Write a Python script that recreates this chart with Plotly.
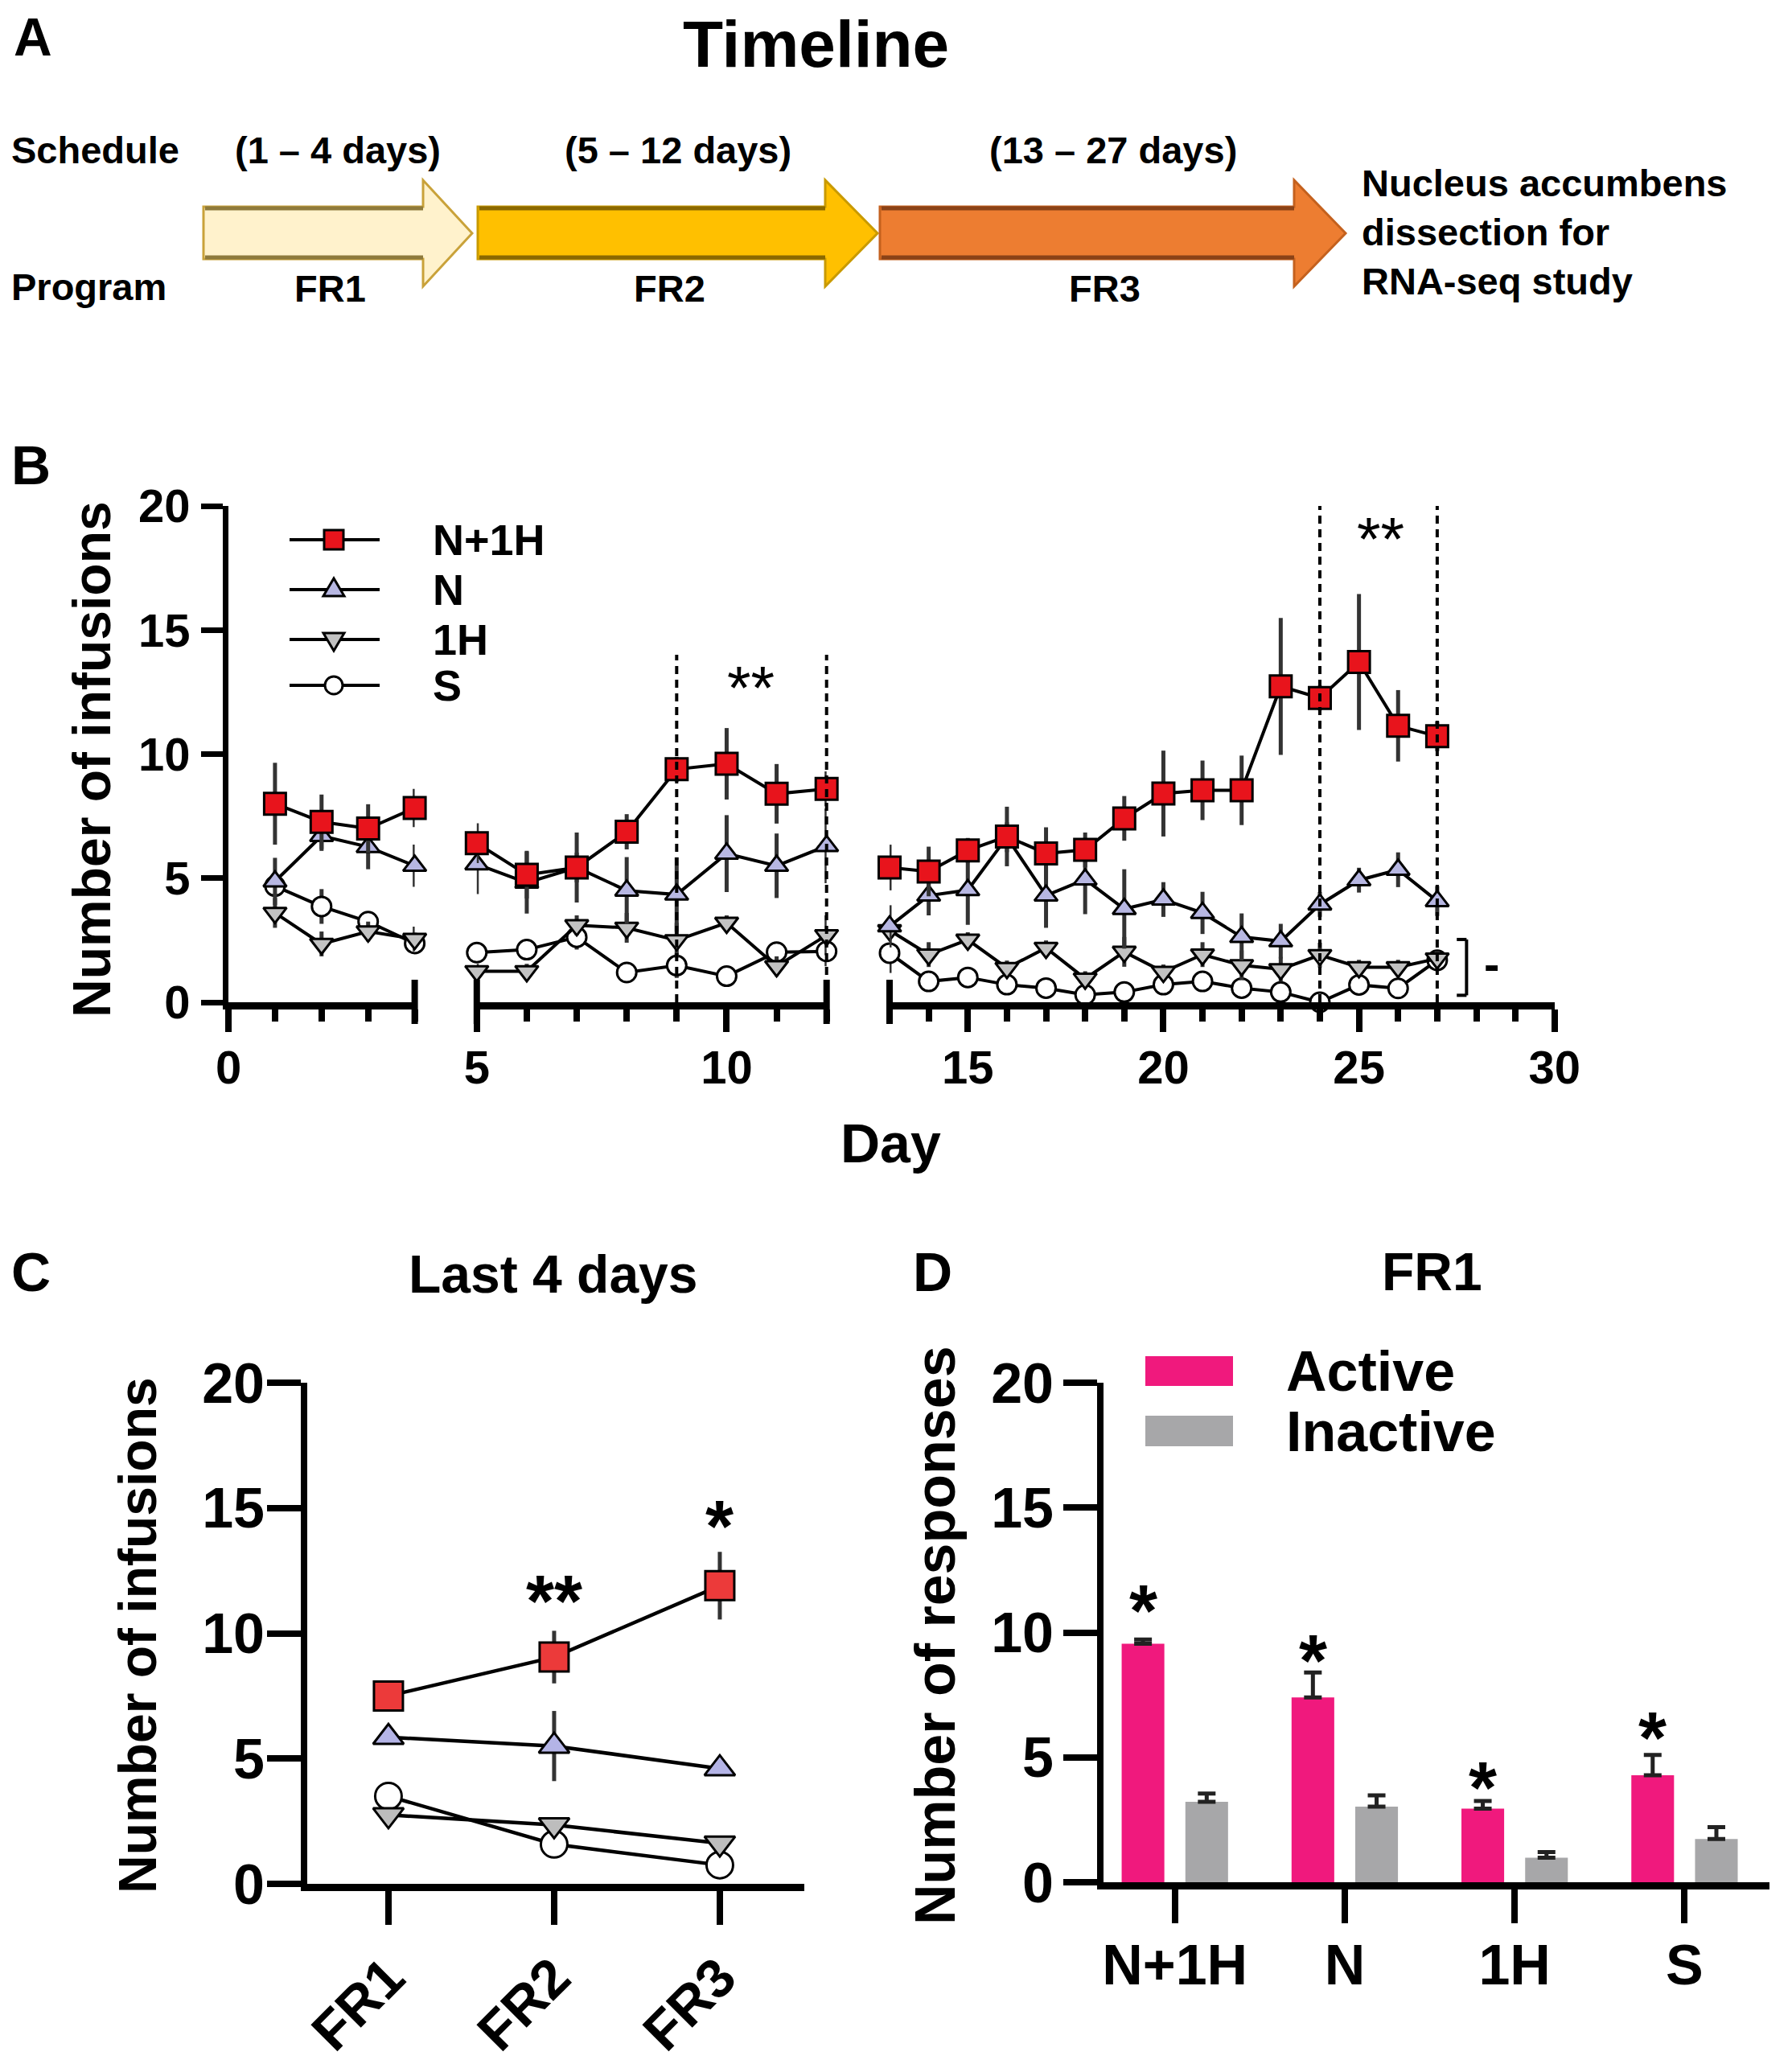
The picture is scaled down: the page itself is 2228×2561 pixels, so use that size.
import plotly.graph_objects as go

W, H = 2228, 2561
FONT = "Arial, 'Liberation Sans', sans-serif"
OFF = 8  # page body margin compensation (px)

# ---------------- Panel B data (mean ± SEM per day) ----------------
days = list(range(1, 28))
nh_mean = [8.0, 7.27, 7.0, 7.83, 6.41, 5.14, 5.43, 6.87, 9.39, 9.61, 8.4, 8.6,
           5.43, 5.27, 6.12, 6.68, 6.0, 6.14, 7.41, 8.41, 8.54, 8.54, 12.73, 12.26, 13.71, 11.14, 10.72]
nh_sem = [1.65, 1.1, 0.98, 0.77, 0.8, 0.96, 1.41, 0.71, 0.5, 1.44, 1.2, 0.7,
          0.92, 1.0, 0.5, 1.2, 1.05, 0.7, 0.9, 1.73, 1.2, 1.4, 2.76, 0.5, 2.74, 1.44, 0.6]
n_mean = [4.87, 6.7, 6.26, 5.5, 5.56, 4.82, 5.43, 4.5, 4.34, 5.99, 5.5, 6.3,
          3.06, 4.3, 4.52, 6.65, 4.3, 4.95, 3.76, 4.14, 3.6, 2.63, 2.46, 3.94, 4.92, 5.34, 4.08]
n_sem = [0.95, 0.6, 0.9, 0.85, 1.2, 1.25, 0.6, 1.35, 1.5, 1.55, 1.3, 1.5,
         0.85, 0.8, 1.4, 0.6, 1.3, 1.4, 1.6, 0.7, 0.85, 0.95, 0.7, 0.5, 0.5, 0.7, 0.6]
h_mean = [3.6, 2.35, 2.85, 2.55, 1.25, 1.25, 3.1, 3.0, 2.5, 3.2, 1.45, 2.7,
          2.9, 1.92, 2.52, 1.38, 2.19, 0.95, 2.03, 1.22, 1.92, 1.49, 1.33, 1.9, 1.41, 1.41, 1.76]
h_sem = [0.6, 0.5, 0.4, 0.5, 0.3, 0.3, 0.4, 0.6, 0.7, 0.3, 0.4, 0.8,
         0.3, 0.5, 0.3, 0.3, 0.3, 0.3, 0.6, 0.3, 0.5, 0.6, 0.5, 0.5, 0.3, 0.3, 0.3]
s_mean = [4.68, 3.86, 3.25, 2.37, 2.0, 2.12, 2.62, 1.2, 1.48, 1.05, 2.02, 2.05,
          1.98, 0.84, 1.0, 0.71, 0.57, 0.3, 0.41, 0.71, 0.84, 0.57, 0.41, 0.0, 0.7, 0.56, 1.69]
s_sem = [0.4, 0.7, 0.3, 0.3, 0.3, 0.3, 0.5, 0.3, 0.5, 0.4, 0.3, 0.6,
         0.8, 0.3, 0.3, 0.3, 0.3, 0.2, 0.2, 0.3, 0.3, 0.3, 0.3, 0.2, 0.3, 0.3, 0.3]
b_groups = ["N+1H", "N", "1H", "S"]
b_xticks = [0, 5, 10, 15, 20, 25, 30]

# ---------------- Panel C data ----------------
phases = ["FR1", "FR2", "FR3"]
c_nh = [7.5, 9.05, 11.9]
c_nh_sem = [0.55, 1.05, 1.35]
c_n = [5.85, 5.5, 4.6]
c_n_sem = [0.2, 1.4, 0.2]
c_h = [2.75, 2.35, 1.62]
c_h_sem = [0.2, 0.2, 0.2]
c_s = [3.5, 1.58, 0.75]
c_s_sem = [0.2, 0.2, 0.2]

# ---------------- Panel D data ----------------
d_groups = ["N+1H", "N", "1H", "S"]
d_active = [9.55, 7.4, 2.95, 4.28]
d_active_sem = [0.17, 1.0, 0.3, 0.82]
d_inactive = [3.22, 3.03, 0.98, 1.73]
d_inactive_sem = [0.33, 0.45, 0.23, 0.48]
d_star_y = [11.5, 9.5, 4.4, 6.4]

# ---------------- helpers ----------------
def PX(x):
    return (x - OFF) / W


def PY(y):
    return 1 - (y - OFF) / H


AX = {
    'x': dict(domain=[PX(284), PX(515.6)], range=[0, 4]),
    'x2': dict(domain=[PX(592.8), PX(1027.7)], range=[5, 12]),
    'x3': dict(domain=[PX(1106), PX(1932.8)], range=[13, 30]),
    'y': dict(domain=[PY(1246), PY(629)], range=[0, 20]),
    'x4': dict(domain=[PX(382), PX(1000)], range=[-0.49, 2.51]),
    'y2': dict(domain=[PY(2342), PY(1719)], range=[0, 20]),
    'x5': dict(domain=[PX(1372), PX(2200)], range=[-0.42, 3.5]),
    'y3': dict(domain=[PY(2340), PY(1719)], range=[0, 20]),
}


def dmap(ax, v):
    d = AX[ax]['domain']
    r = AX[ax]['range']
    return d[0] + (v - r[0]) / (r[1] - r[0]) * (d[1] - d[0])


fig = go.Figure()


def txt(x, y, s, size, bold=True, xanchor='center', yanchor='middle', angle=0, align='center',
        xref='paper', yref='paper', yshift=0):
    fig.add_annotation(x=x, y=y, xref=xref, yref=yref, text=s, showarrow=False,
                       font=dict(family=FONT, size=size, color='black',
                                 weight='bold' if bold else 'normal'),
                       xanchor=xanchor, yanchor=yanchor, textangle=angle, align=align,
                       yshift=yshift, borderpad=0)


def line(x0, y0, x1, y1, color='black', width=5, dash=None):
    fig.add_shape(type='line', xref='paper', yref='paper', x0=x0, y0=y0, x1=x1, y1=y1,
                  line=dict(color=color, width=width, dash=dash))


def path(pts, fill, color, width):
    d = 'M ' + ' L '.join(f'{PX(x):.5f},{PY(y):.5f}' for x, y in pts) + ' Z'
    fig.add_shape(type='path', xref='paper', yref='paper', path=d, fillcolor=fill,
                  line=dict(color=color, width=width))


# ================= Panel A: timeline =================
txt(PX(41), 1.0, "A", 66, yanchor='top')
txt(PX(1014), 1.0, "Timeline", 82, yanchor='top')
txt(PX(13), PY(186), "Schedule", 47, xanchor='left')
txt(PX(13), PY(356), "Program", 47, xanchor='left')

arrows = [
    (253, 526, 587, '#FFF2CC', '#C9A23A', '#8E7A3C', "(1 – 4 days)", "FR1"),
    (594, 1026, 1091, '#FFC000', '#C99A00', '#8A6800', "(5 – 12 days)", "FR2"),
    (1094, 1609, 1673, '#ED7D31', '#C4611E', '#8A4217', "(13 – 27 days)", "FR3"),
]
BT, BB, HT, HB, CY = 257, 322, 224, 356, 290
for L, HBx, T, fill, edge, band, sched, prog in arrows:
    path([(L, BT), (HBx, BT), (HBx, HT), (T, CY), (HBx, HB), (HBx, BB), (L, BB)], fill, edge, 3)
    line(PX(L + 2), PY(BT + 2), PX(HBx), PY(BT + 2), color=band, width=5)
    line(PX(L + 2), PY(BB - 2), PX(HBx), PY(BB - 2), color=band, width=5)
    cx = (L + T) / 2
    txt(PX(cx), PY(186), sched, 47)
    txt(PX(cx - 10), PY(358), prog, 47)

txt(PX(1692), PY(289), "Nucleus accumbens<br>dissection for<br>RNA-seq study", 47,
    xanchor='left', align='left')

# ================= Panel B =================
segments = [('x', 1, 4), ('x2', 5, 12), ('x3', 13, 27)]
series_b = [
    ("S", s_mean, s_sem, 'circle', 24, 'white'),
    ("1H", h_mean, h_sem, 'triangle-down', 25, '#C2C2C2'),
    ("N", n_mean, n_sem, 'triangle-up', 25, '#B7B7E2'),
    ("N+1H", nh_mean, nh_sem, 'square', 27, '#E8141C'),
]
for xa, d0, d1 in segments:
    idx = [i for i, d in enumerate(days) if d0 <= d <= d1]
    for name, m, s, sym, size, col in series_b:
        fig.add_trace(go.Scatter(
            x=[days[i] for i in idx], y=[m[i] for i in idx], name=name,
            mode='lines+markers', xaxis=xa, yaxis='y', cliponaxis=False,
            line=dict(color='black', width=4),
            marker=dict(symbol=sym, size=size, color=col, line=dict(color='black', width=3)),
            error_y=dict(type='data', array=[s[i] for i in idx], color='#333333',
                         thickness=5, width=0),
            showlegend=False))

# segment end caps (Prism-style broken axis)
y0p = dmap('y', 0)
for ax, v in [('x', 4), ('x2', 5), ('x2', 12), ('x3', 13)]:
    xp = dmap(ax, v)
    line(xp, y0p - 27 / H, xp, y0p + 28 / H, width=8)

# significance windows
sig_windows = [('x2', 9, 12, 14.0, 10.49, 13.2), ('x3', 24, 27, 20.0, 25.56, 19.2)]
for ax, a, b, top, sx, sy in sig_windows:
    for v in (a, b):
        line(dmap(ax, v), dmap('y', 0), dmap(ax, v), dmap('y', top), width=4, dash='10px,7px')
    txt(sx, sy, "**", 76, bold=False, xref=ax, yref='y', yshift=-16)

# bracket
bx, bx2, by0, by1 = 27.75, 27.5, 0.28, 2.53
line(dmap('x3', bx), dmap('y', by0), dmap('x3', bx), dmap('y', by1), width=4)
line(dmap('x3', bx2), dmap('y', by0), dmap('x3', bx), dmap('y', by0), width=4)
line(dmap('x3', bx2), dmap('y', by1), dmap('x3', bx), dmap('y', by1), width=4)
txt(28.4, 1.55, "-", 58, xref='x3', yref='y')

# legend (manual, Prism style)
leg_rows = [671, 733, 795, 852]
for (name, m, s, sym, size, col), ry in zip(series_b[::-1], leg_rows):
    line(PX(360), PY(ry), PX(472), PY(ry), width=4)
    cx = 415
    if sym == 'square':
        path([(cx - 12, ry - 12), (cx + 12, ry - 12), (cx + 12, ry + 12), (cx - 12, ry + 12)],
             col, 'black', 3)
    elif sym == 'triangle-up':
        path([(cx - 13, ry + 8), (cx + 13, ry + 8), (cx, ry - 14)], col, 'black', 3)
    elif sym == 'triangle-down':
        path([(cx - 13, ry - 8), (cx + 13, ry - 8), (cx, ry + 14)], col, 'black', 3)
    else:
        fig.add_shape(type='circle', xref='paper', yref='paper', x0=PX(cx - 11), x1=PX(cx + 11),
                      y0=PY(ry + 11), y1=PY(ry - 11), fillcolor=col, line=dict(color='black', width=3))
    txt(PX(537), PY(ry), name, 54, xanchor='left')

txt(PX(38), PY(578), "B", 68)
txt(PX(114), PY(944), "Number of infusions", 66, angle=-90)
txt(PX(1107), PY(1421), "Day", 68)

# ================= Panel C =================
series_c = [
    ("S", c_s, c_s_sem, 'circle', 33, 'white'),
    ("1H", c_h, c_h_sem, 'triangle-down', 33, '#BDBDBD'),
    ("N", c_n, c_n_sem, 'triangle-up', 33, '#B4B4E6'),
    ("N+1H", c_nh, c_nh_sem, 'square', 36, '#EC3A3A'),
]
for name, m, s, sym, size, col in series_c:
    fig.add_trace(go.Scatter(
        x=phases, y=m, name=name, mode='lines+markers', xaxis='x4', yaxis='y2', cliponaxis=False,
        line=dict(color='black', width=4.5),
        marker=dict(symbol=sym, size=size, color=col, line=dict(color='black', width=3)),
        error_y=dict(type='data', array=s, color='#333333', thickness=5, width=0),
        showlegend=False))
txt(1, 11.9, "**", 90, xref='x4', yref='y2', yshift=-20)
txt(2, 14.9, "*", 90, xref='x4', yref='y2', yshift=-20)
txt(PX(38), PY(1581), "C", 68)
txt(PX(688), PY(1584), "Last 4 days", 66)
txt(PX(171), PY(2033), "Number of infusions", 66, angle=-90)

# ================= Panel D =================
BARGAP, BARGROUPGAP = 0.25, 0.33
fig.add_trace(go.Bar(x=d_groups, y=d_active, name='Active', marker=dict(color='#F0197D', line=dict(width=0)),
                     error_y=dict(type='data', array=d_active_sem, arrayminus=[0] * 4, symmetric=False,
                                  color='#222222', thickness=5, width=11),
                     xaxis='x5', yaxis='y3', showlegend=False))
fig.add_trace(go.Bar(x=d_groups, y=d_inactive, name='Inactive', marker=dict(color='#A7A7A9', line=dict(width=0)),
                     error_y=dict(type='data', array=d_inactive_sem, arrayminus=[0] * 4, symmetric=False,
                                  color='#222222', thickness=5, width=11),
                     xaxis='x5', yaxis='y3', showlegend=False))
off = (1 - BARGAP) / 4
for i, sy in enumerate(d_star_y):
    txt(i - off, sy, "*", 90, xref='x5', yref='y3', yshift=-20)

# legend D
fig.add_shape(type='rect', xref='paper', yref='paper', x0=PX(1424), x1=PX(1533), y0=PY(1723), y1=PY(1686),
              fillcolor='#F0197D', line=dict(width=0))
fig.add_shape(type='rect', xref='paper', yref='paper', x0=PX(1424), x1=PX(1533), y0=PY(1798), y1=PY(1760),
              fillcolor='#A7A7A9', line=dict(width=0))
txt(PX(1598), PY(1705), "Active", 70, xanchor='left')
txt(PX(1598), PY(1780), "Inactive", 70, xanchor='left')
txt(PX(1159), PY(1581), "D", 68)
txt(PX(1780), PY(1581), "FR1", 66)
txt(PX(1163), PY(2033), "Number of responses", 70, angle=-90)

# ================= Axes =================
def tfont(size):
    return dict(family=FONT, size=size, color='black', weight='bold')


bx_common = dict(showline=True, linewidth=9, linecolor='black', showgrid=False, zeroline=False,
                 ticks='outside', ticklen=28, tickwidth=8, tickcolor='black', tick0=0, dtick=5,
                 minor=dict(ticks='outside', ticklen=15, tickwidth=8, tickcolor='black', dtick=1, tick0=0),
                 tickfont=tfont(58), anchor='y', ticklabelstandoff=-6, automargin=False)
layout_axes = {}
for ax in ('x', 'x2', 'x3'):
    key = 'xaxis' if ax == 'x' else 'xaxis' + ax[1:]
    layout_axes[key] = dict(bx_common, domain=AX[ax]['domain'], range=AX[ax]['range'],
                            tickvals=[t for t in b_xticks if AX[ax]['range'][0] <= t <= AX[ax]['range'][1]])
layout_axes['yaxis'] = dict(domain=AX['y']['domain'], range=AX['y']['range'], anchor='x',
                            showline=True, linewidth=7, linecolor='black', showgrid=False, zeroline=False,
                            ticks='outside', ticklen=27, tickwidth=7, tickcolor='black', dtick=5,
                            tickfont=tfont(58), ticklabelstandoff=2, automargin=False)
layout_axes['xaxis4'] = dict(domain=AX['x4']['domain'], range=AX['x4']['range'], anchor='y2', type='category',
                             showline=True, linewidth=9, linecolor='black', showgrid=False, zeroline=False,
                             ticks='outside', ticklen=42, tickwidth=8, tickcolor='black', tickangle=-45,
                             tickfont=tfont(68), ticklabelstandoff=-2, automargin=False)
layout_axes['yaxis2'] = dict(domain=AX['y2']['domain'], range=AX['y2']['range'], anchor='x4',
                             showline=True, linewidth=8, linecolor='black', showgrid=False, zeroline=False,
                             ticks='outside', ticklen=42, tickwidth=8, tickcolor='black', dtick=5,
                             tickfont=tfont(70), ticklabelstandoff=-11, automargin=False)
layout_axes['xaxis5'] = dict(domain=AX['x5']['domain'], range=AX['x5']['range'], anchor='y3', type='category',
                             showline=True, linewidth=9, linecolor='black', showgrid=False, zeroline=False,
                             ticks='outside', ticklen=42, tickwidth=8, tickcolor='black',
                             tickfont=tfont(70), ticklabelstandoff=-8, automargin=False)
layout_axes['yaxis3'] = dict(domain=AX['y3']['domain'], range=AX['y3']['range'], anchor='x5',
                             showline=True, linewidth=8, linecolor='black', showgrid=False, zeroline=False,
                             ticks='outside', ticklen=42, tickwidth=8, tickcolor='black', dtick=5,
                             tickfont=tfont(70), ticklabelstandoff=-2, automargin=False)

fig.update_layout(width=W, height=H, margin=dict(l=0, r=0, t=0, b=0, autoexpand=False),
                  paper_bgcolor='white', plot_bgcolor='white', showlegend=False,
                  barmode='group', bargap=BARGAP, bargroupgap=BARGROUPGAP,
                  font=dict(family=FONT, color='black'), **layout_axes)

fig.write_html("out.html")
